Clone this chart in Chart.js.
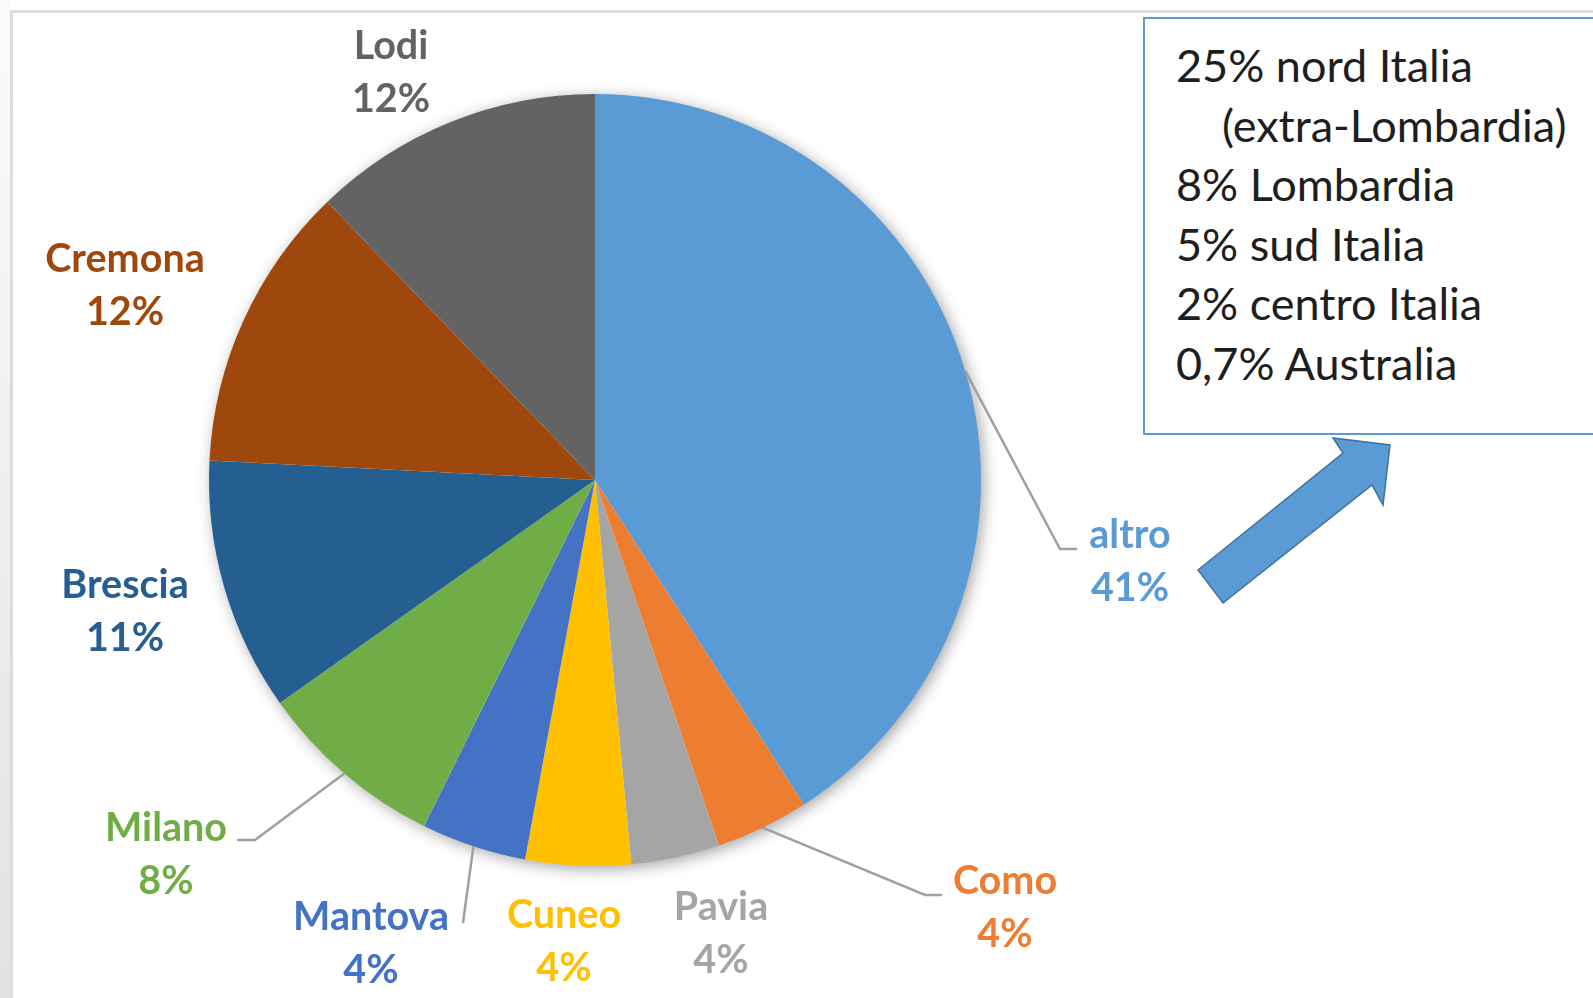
<!DOCTYPE html>
<html>
<head>
<meta charset="utf-8">
<script src="https://cdn.jsdelivr.net/npm/chart.js@4.4.0/dist/chart.umd.min.js"></script>
<style>
  body { margin: 0; background: #fff; width: 1593px; height: 998px; overflow: hidden; position: relative; font-family: Lato, sans-serif; }
  #strip { position: absolute; left: 0; top: 0; width: 10px; height: 998px; background: linear-gradient(#fbfbfb, #e2e2e2); }
  #frame { position: absolute; left: 10px; top: 10px; right: -5px; bottom: -5px; border-top: 3px solid #dcdcdc; border-left: 3px solid #dcdcdc; }
  #chart { position: absolute; left: 0; top: 0; }
  #note {
    position: absolute; left: 1143px; top: 17px; width: 520px; height: 418px;
    box-sizing: border-box; border: 2px solid #5b9bd5; background: #fff;
    padding: 17px 0 0 31px; font-size: 45px; line-height: 59.6px; color: #1e1e1e;
  }
  #note .indent { padding-left: 46px; }
</style>
</head>
<body>
<div id="strip"></div>
<div id="frame"></div>
<canvas id="chart" width="1593" height="998"></canvas>
<div id="note">
  <div>25% nord Italia</div>
  <div class="indent">(extra-Lombardia)</div>
  <div>8% Lombardia</div>
  <div>5% sud Italia</div>
  <div>2% centro Italia</div>
  <div>0,7% Australia</div>
</div>
<script>
// Provinces, clockwise from 12 o'clock
const provinces = ['altro', 'Como', 'Pavia', 'Cuneo', 'Mantova', 'Milano', 'Brescia', 'Cremona', 'Lodi'];
// Share of total (%)
const shares = [40.9, 3.9, 3.7, 4.4, 4.4, 7.9, 10.6, 12.0, 12.2];
// Slice colours (Office palette)
const sliceColors = ['#5b9bd5', '#ed7d31', '#a5a5a5', '#ffc000', '#4472c4', '#70ad47', '#255e91', '#9e480e', '#636363'];

// Label placement: offset from the pie centre, and optional leader line points (relative to label)
const labelPlacement = [
    { dx: 535, dy: 82, leader: [[-70, -13], [-53, -13]] },
    { dx: 410, dy: 428, leader: [[-80, -13], [-63, -13]] },
    { dx: 126, dy: 454 },
    { dx: -31, dy: 462 },
    { dx: -224, dy: 464, leader: [[92, -21]] },
    { dx: -429, dy: 375, leader: [[89, -15], [71, -15]] },
    { dx: -470, dy: 132 },
    { dx: -470, dy: -194 },
    { dx: -204, dy: -407 }
];

// Soft shadow behind the pie
const pieShadow = {
    id: 'pieShadow',
    beforeDatasetsDraw(chart) {
        const arc = chart.getDatasetMeta(0).data[0];
        if (!arc) return;
        const ctx = chart.ctx;
        ctx.save();
        ctx.shadowColor = 'rgba(0,0,0,0.4)';
        ctx.shadowBlur = 16;
        ctx.shadowOffsetX = 3;
        ctx.shadowOffsetY = 3;
        ctx.beginPath();
        ctx.arc(arc.x, arc.y, arc.outerRadius - 1, 0, Math.PI * 2);
        ctx.fillStyle = '#fff';
        ctx.fill();
        ctx.restore();
    }
};

// Data labels with leader lines
const pieLabels = {
    id: 'pieLabels',
    afterDatasetsDraw(chart) {
        const ctx = chart.ctx;
        const meta = chart.getDatasetMeta(0);
        const total = shares.reduce((a, b) => a + b, 0);
        meta.data.forEach((arc, i) => {
            const p = arc.getProps(['x', 'y', 'startAngle', 'endAngle', 'outerRadius'], true);
            const mid = (p.startAngle + p.endAngle) / 2;
            const place = labelPlacement[i];
            const lx = p.x + place.dx;
            const ly = p.y + place.dy;
            ctx.save();
            if (place.leader) {
                ctx.beginPath();
                ctx.moveTo(p.x + Math.cos(mid) * p.outerRadius, p.y + Math.sin(mid) * p.outerRadius);
                place.leader.forEach(([a, b]) => ctx.lineTo(lx + a, ly + b));
                ctx.strokeStyle = '#a0a0a0';
                ctx.lineWidth = 2.5;
                ctx.stroke();
            }
            ctx.fillStyle = sliceColors[i];
            ctx.font = 'bold 39.5px Lato';
            ctx.textAlign = 'center';
            ctx.textBaseline = 'middle';
            ctx.fillText(provinces[i], lx, ly - 26.5);
            ctx.fillText(Math.round(shares[i] / total * 100) + '%', lx, ly + 26.5);
            ctx.restore();
        });
    }
};

// Block arrow pointing to the note box
const blockArrow = {
    id: 'blockArrow',
    afterDraw(chart) {
        const ctx = chart.ctx;
        const pts = [[1198, 570], [1343, 453], [1333, 438], [1390, 445], [1383, 505], [1372, 485], [1223, 603]];
        ctx.save();
        ctx.beginPath();
        pts.forEach(([x, y], k) => k ? ctx.lineTo(x, y) : ctx.moveTo(x, y));
        ctx.closePath();
        ctx.fillStyle = '#5b9bd5';
        ctx.fill();
        ctx.strokeStyle = '#41719c';
        ctx.lineWidth = 1.5;
        ctx.stroke();
        ctx.restore();
    }
};

new Chart(document.getElementById('chart'), {
    type: 'pie',
    data: {
        labels: provinces,
        datasets: [{
            data: shares,
            backgroundColor: sliceColors,
            borderWidth: 0
        }]
    },
    options: {
        responsive: false,
        animation: false,
        layout: {
            padding: { left: 209, right: 612, top: 94, bottom: 132 }
        },
        plugins: {
            legend: { display: false },
            tooltip: { enabled: false }
        }
    },
    plugins: [pieShadow, pieLabels, blockArrow]
});
</script>
</body>
</html>
